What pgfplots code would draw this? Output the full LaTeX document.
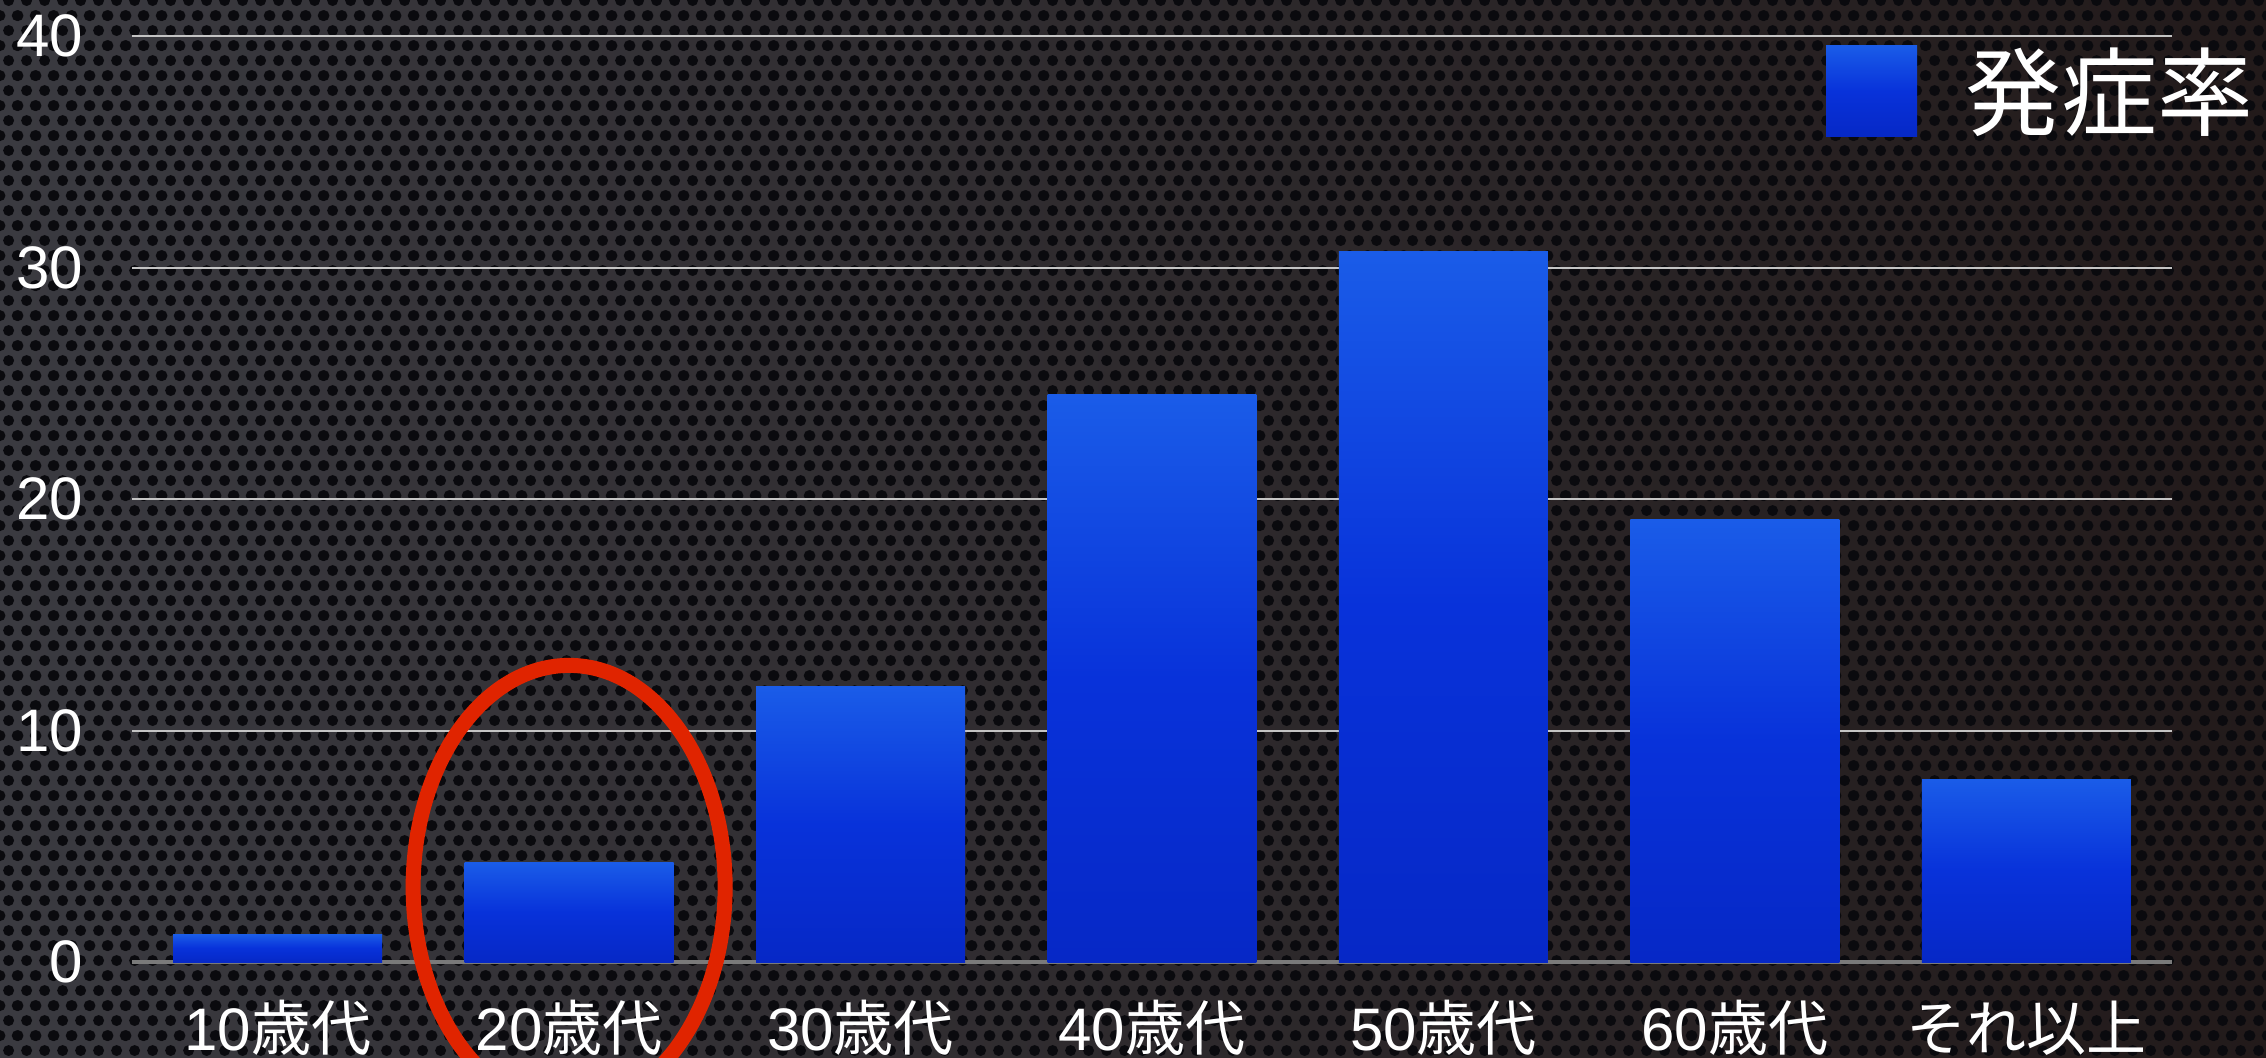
\documentclass[border=0pt]{standalone}
\usepackage{fontspec}
\setmainfont{Liberation Sans}
\newfontfamily\cjk{Noto Sans CJK JP}
\usepackage{pgfplots}
\pgfplotsset{compat=1.18}
\usetikzlibrary{patterns.meta}
\definecolor{bartop}{HTML}{1A5CE8}
\definecolor{barmid}{HTML}{0832DA}
\definecolor{barbot}{HTML}{0628C6}
\definecolor{gridc}{HTML}{C4C4C4}
\definecolor{basec}{HTML}{7A7A7A}
\definecolor{ringred}{HTML}{E02400}
\definecolor{bgleft}{HTML}{3A3A40}
\definecolor{bgright}{HTML}{221A1A}
\definecolor{holec}{HTML}{0A0A0E}
\tikzdeclarepattern{
  name=holes, type=uncolored,
  bottom left={(0pt,0pt)}, top right={(4.4pt,7.6pt)},
  tile size={(4.4pt,7.6pt)},
  code={
    \fill (2.2pt,1.9pt) circle (1.4pt);
    \fill (0pt,5.7pt) circle (1.4pt);
    \fill (4.4pt,5.7pt) circle (1.4pt);
  }
}
\pgfplotsset{barsty/.style={ybar, bar width=0.717, bar shift=0pt, draw=none, mark=none, shading=axis, top color=bartop, bottom color=barbot, middle color=barmid, forget plot}}
\begin{document}
\begin{tikzpicture}
\useasboundingbox (0,0) rectangle (566.5pt,264.5pt);
\clip (0,0) rectangle (566.5pt,264.5pt);
\shade[left color=bgleft, right color=bgright] (0,0) rectangle (566.5pt,264.5pt);
\fill[pattern=holes, pattern color=holec] (0,0) rectangle (566.5pt,264.5pt);
\begin{axis}[
  at={(33pt,24pt)}, anchor=south west,
  width=510pt, height=231.5pt, scale only axis,
  xmin=-0.5, xmax=6.5, ymin=0, ymax=40,
  axis x line*=bottom, axis y line*=left,
  y axis line style={draw=none},
  x axis line style={basec, line width=0.8pt},
  major tick length=0pt,
  ymajorgrids, grid style={gridc, line width=0.5pt},
  ytick={0,10,20,30,40},
  xtick={0,1,2,3,4,5,6},
  xticklabels={10{\cjk 歳代},20{\cjk 歳代},30{\cjk 歳代},40{\cjk 歳代},50{\cjk 歳代},60{\cjk 歳代},{\cjk それ以上}},
  /pgf/number format/assume math mode=true,
  yticklabel style={anchor=east, inner sep=0pt, xshift=-12pt, text=white, font=\fontsize{15}{15}\selectfont},
  xticklabel style={anchor=base, inner sep=0pt, yshift=-22pt, text=white, font=\fontsize{15}{15}\selectfont},
  clip=false,
  legend style={draw=none, fill=none, text=white, inner sep=0pt,
    font=\cjk\fontsize{24}{28}\selectfont,
    at={(0.830,0.9406)}, anchor=west, column sep=10pt},
  legend cell align=left,
]
\addlegendimage{draw=none, legend image code/.code={\shade[draw=none, top color=bartop,bottom color=barbot,middle color=barmid] (0pt,-11.4pt) rectangle (22.75pt,11.4pt);}}
\addlegendentry{発症率}
\addplot[barsty] coordinates {(0,1.2)};
\addplot[barsty] coordinates {(1,4.3)};
\addplot[barsty] coordinates {(2,11.9)};
\addplot[barsty] coordinates {(3,24.5)};
\addplot[barsty] coordinates {(4,30.7)};
\addplot[barsty] coordinates {(5,19.1)};
\addplot[barsty] coordinates {(6,7.9)};
\draw[ringred, line width=3.75pt] (axis cs:1,3.24) ellipse [x radius=39pt, y radius=55.4pt];
\end{axis}
\end{tikzpicture}
\end{document}
